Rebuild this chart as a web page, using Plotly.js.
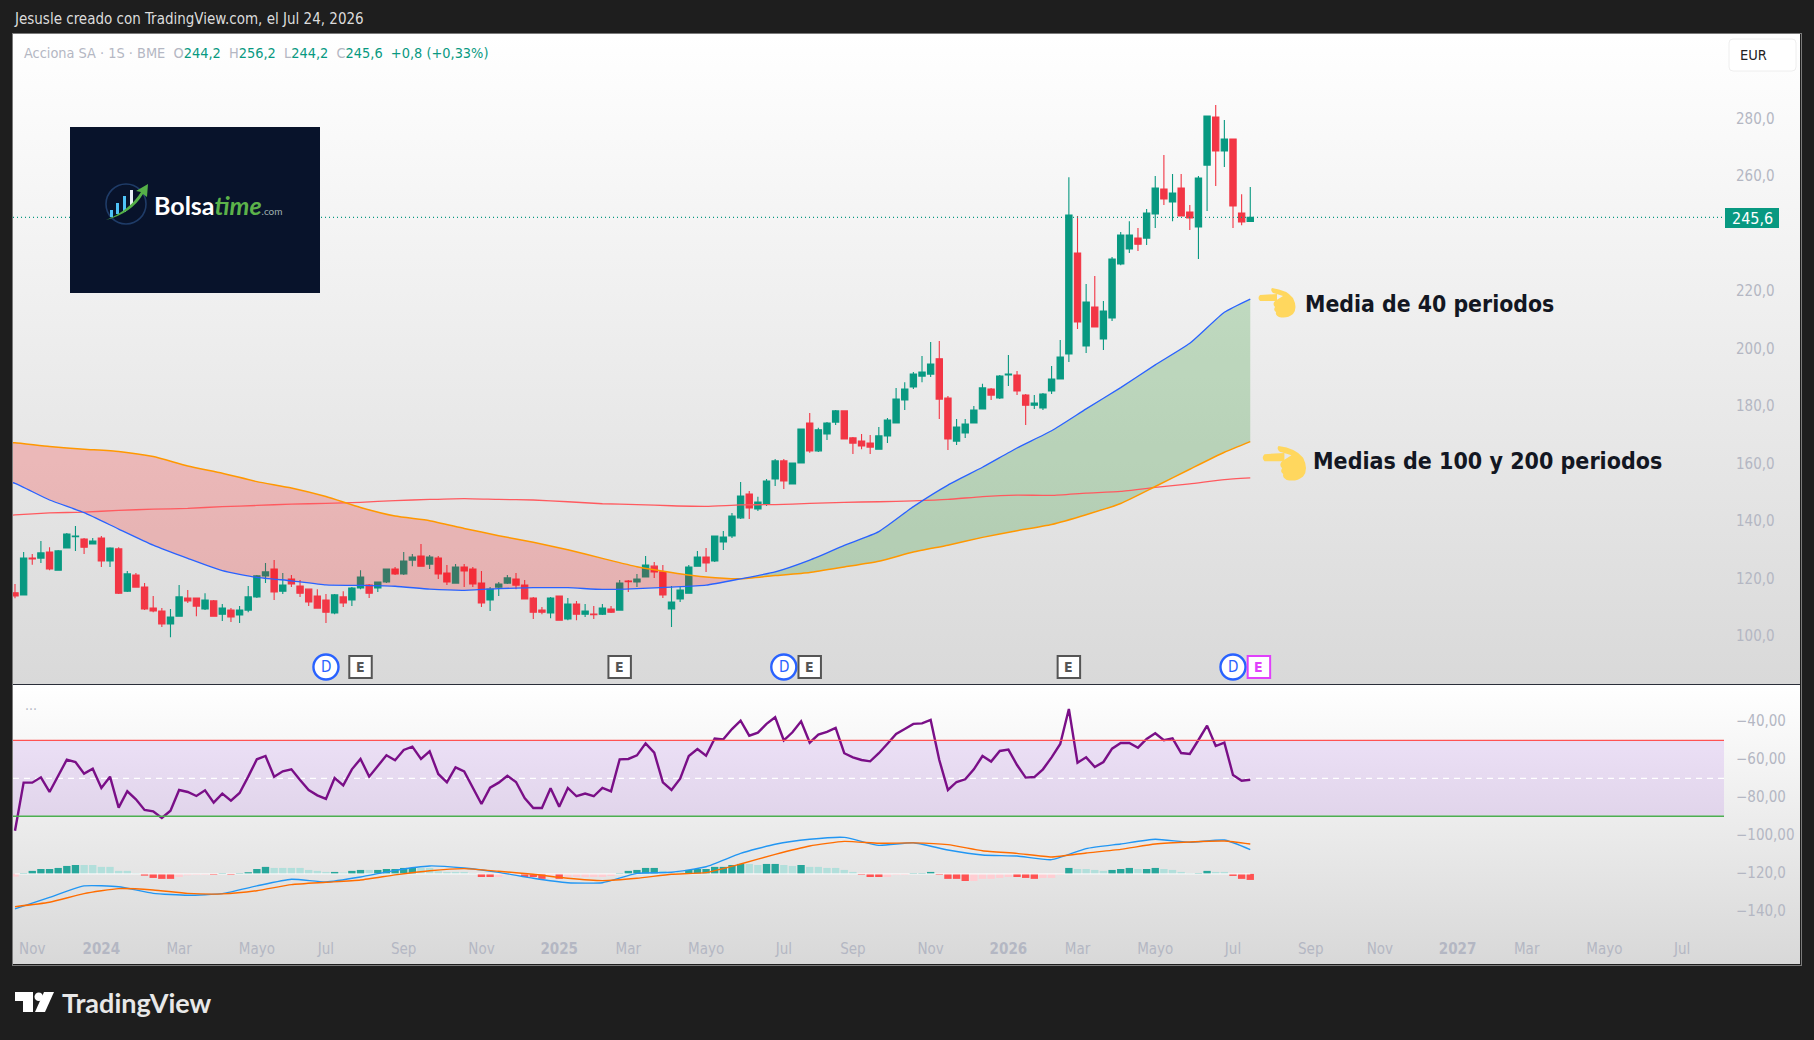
<!DOCTYPE html>
<html><head><meta charset="utf-8">
<script src="https://cdn.plot.ly/plotly-3.0.1.min.js"></script>
<style>
html,body{margin:0;padding:0;background:#1e1e1e;width:1814px;height:1040px;overflow:hidden}
.pane{position:absolute;left:13px;width:1787px}
#p1{top:34px;height:650px;background:linear-gradient(#ffffff,#d9d9d9)}
#p2{top:685px;height:279px;background:linear-gradient(#ffffff 0%,#d8d8d8 100%)}
#frame{position:absolute;left:12px;top:33px;width:1788px;height:931px;border:1px solid #7a7a7a;box-sizing:content-box}
#sep{position:absolute;left:13px;top:684px;width:1787px;height:1px;background:#2a2e39}
#chart{position:absolute;left:0;top:0}
</style></head><body>
<div class="pane" id="p1"></div><div class="pane" id="p2"></div><div id="sep"></div><div id="frame"></div>
<div id="chart"></div>
<script>
const open_=[115.0,114.3,127.1,127.1,129.2,122.9,130.6,134.5,133.7,132.0,
134.1,126.1,130.3,115.6,121.2,117.0,109.7,108.7,104.2,106.9,
113.2,113.2,109.4,112.2,107.6,109.0,107.3,109.0,113.6,120.9,
123.3,115.6,119.8,117.4,116.3,113.9,112.5,108.0,113.6,112.5,
116.7,117.7,116.7,118.8,123.3,121.6,126.4,127.8,125.0,127.1,
121.9,118.4,124.0,123.3,118.4,112.5,117.0,118.4,119.8,117.7,
113.2,109.0,108.0,113.9,105.9,111.1,107.6,107.6,107.6,109.4,
109.0,119.1,118.8,120.5,124.3,122.3,109.4,112.9,114.9,124.3,
127.5,126.1,132.7,134.8,141.1,149.4,144.2,145.9,154.6,160.9,
152.9,160.2,174.1,164.4,170.3,174.4,178.3,168.9,167.8,167.1,
165.0,169.6,174.1,182.1,186.6,190.4,191.1,196.4,182.8,167.8,
170.6,174.1,179.0,185.9,182.8,190.8,190.8,183.8,180.3,179.3,
185.2,189.4,198.1,233.2,200.9,214.4,203.3,210.6,229.4,234.6,
238.4,238.4,246.8,255.5,251.0,255.8,247.5,242.3,263.8,280.5,
268.7,272.9,247.1,244.2];
const high_=[118.1,129.2,128.5,133.0,130.9,129.9,135.8,138.3,134.1,134.1,
134.8,130.9,130.9,122.6,121.9,118.4,113.9,109.7,109.4,117.7,
116.0,113.2,114.9,112.5,111.1,109.7,110.4,117.4,121.2,125.4,
126.4,121.9,121.2,119.5,116.3,116.3,114.6,114.6,115.6,117.0,
122.9,118.1,118.8,123.3,124.0,129.2,128.5,132.0,128.2,127.8,
124.7,125.0,125.0,124.0,122.6,117.0,118.8,121.2,121.9,119.5,
113.6,110.1,113.6,113.9,113.2,112.2,111.1,110.4,111.1,110.4,
119.5,119.5,121.6,127.8,125.7,124.7,117.4,117.0,124.7,129.6,
130.6,134.8,136.5,142.8,153.6,150.4,148.4,154.6,161.6,161.6,
160.2,172.0,177.6,172.4,174.4,178.6,178.3,169.2,170.3,169.9,
172.7,175.8,186.3,188.3,191.8,197.4,202.3,202.6,183.5,175.5,
175.5,180.0,187.7,186.3,190.8,197.7,192.2,184.2,183.8,184.5,
193.9,203.0,259.6,246.1,222.4,225.2,216.5,231.8,240.5,244.3,
241.9,248.5,260.0,267.3,260.7,260.7,249.9,260.0,280.9,284.7,
279.5,272.9,253.7,256.2];
const low_=[113.1,114.3,124.8,125.4,122.9,122.9,130.6,129.6,128.5,132.0,
124.0,124.0,114.6,115.3,117.0,109.0,108.3,103.1,99.6,106.9,
111.5,106.9,109.0,106.9,105.2,104.9,104.5,108.3,113.2,118.4,
112.5,114.6,117.0,113.6,110.4,109.7,104.5,107.6,110.1,110.4,
116.3,113.2,115.3,118.4,121.2,121.2,124.3,124.3,123.3,119.8,
117.7,118.4,117.0,117.0,110.1,108.7,113.9,118.1,116.3,112.9,
105.9,107.6,106.2,105.5,105.5,105.5,106.6,105.9,107.3,108.0,
109.0,115.3,117.0,120.5,120.2,113.2,103.1,111.8,114.9,124.3,
122.3,125.7,129.9,134.1,140.7,140.7,143.5,145.2,152.2,151.1,
152.9,160.2,163.7,164.0,168.2,173.4,168.5,163.3,165.0,163.3,
165.0,167.1,174.1,178.6,185.9,188.3,190.1,175.5,164.7,166.4,
168.9,174.1,179.0,182.1,182.4,187.0,183.8,173.4,179.0,178.6,
184.2,189.4,195.3,206.8,198.4,207.5,199.5,209.6,229.0,233.2,
233.9,236.0,241.9,249.9,244.3,246.1,241.2,231.1,247.8,256.5,
263.1,241.9,242.9,244.2];
const close_=[113.9,127.1,126.8,128.9,123.3,129.6,135.5,134.8,130.9,133.0,
126.1,130.6,114.9,121.6,117.0,109.4,108.7,104.2,106.6,113.6,
112.2,110.4,112.5,106.9,109.7,106.6,109.0,113.6,120.9,122.3,
115.3,117.7,118.1,114.9,111.8,109.7,108.3,114.3,111.5,116.7,
120.5,114.9,118.8,123.3,121.6,126.1,127.5,124.3,127.5,121.6,
118.8,124.0,122.6,118.1,111.5,116.3,118.1,120.2,117.7,112.9,
108.3,108.3,113.2,105.5,111.1,107.6,108.7,107.4,109.7,108.3,
118.4,118.9,119.8,124.7,122.3,114.3,111.8,116.0,124.0,127.5,
125.4,134.8,134.4,141.7,148.7,144.5,146.6,153.9,160.9,153.9,
160.2,172.0,164.4,171.7,174.1,178.3,168.5,167.1,166.1,165.7,
169.6,175.1,182.4,185.9,191.1,191.8,194.6,182.4,168.5,172.7,
173.7,178.6,186.3,183.8,190.4,191.1,185.2,180.3,181.0,184.2,
189.4,197.0,246.4,209.2,216.2,207.5,213.0,231.1,239.5,239.5,
236.3,247.1,255.8,252.0,254.1,246.1,245.4,259.3,280.9,268.7,
272.9,249.6,244.0,245.6];

// moving averages, read at every 4th week
const maWeeks=[-1,0,4,8,12,16,20,24,28,32,36,40,44,48,52,56,60,64,68,72,76,80,84,88,92,96,100,104,108,112,116,120,124,128,132,136,140,143];
const ma100=[167.3,167.2,165.9,165.0,164.2,162.4,159.1,156.6,153.7,151.5,148.5,144.7,141.7,140.1,137.4,134.9,132.6,130.0,127.0,124.1,122.1,120.5,119.9,121.0,122.1,124.0,126.0,129.2,131.6,134.3,136.6,138.8,142.2,146.1,152.0,158.0,163.9,167.6];
const ma40=[153.8,153.1,147.3,142.9,137.2,131.6,127.0,122.7,120.4,119.2,117.8,117.6,117.3,116.3,115.9,116.5,116.8,116.8,116.2,116.5,117.0,117.7,119.9,122.3,126.4,131.5,136.3,145.0,152.5,158.7,165.4,171.4,179.0,186.4,194.3,201.8,212.6,217.2];
const ma200=[142.0,142.1,142.8,143.1,143.7,144.1,144.4,145.0,145.4,145.9,146.1,146.5,147.1,147.5,147.8,147.5,147.3,146.7,146.0,145.7,145.3,145.1,145.6,145.7,146.1,146.5,146.7,147.0,147.5,148.5,149.0,148.9,149.7,150.3,151.7,152.9,154.4,155.0];
const crossWeek=84;

// lower pane, all in the scale printed on its axis
const rsi=[-98.0,-72.75,-72.75,-69.95,-77.65,-69.25,-60.67,-61.9,-68.0,-65.4,
-75.55,-69.6,-85.9,-77.3,-81.5,-87.1,-87.8,-91.3,-87.5,-76.6,
-77.65,-79.75,-76.8,-83.25,-78.5,-82.2,-78.2,-69.6,-60.5,-58.75,
-69.6,-66.8,-65.75,-71.35,-76.6,-79.4,-81.3,-70.3,-74.15,-65.75,
-60.3,-69.6,-64.0,-58.4,-61.0,-55.6,-53.85,-60.3,-56.3,-68.2,
-72.6,-64.7,-66.8,-75.2,-83.95,-75.4,-72.75,-69.1,-72.4,-80.8,
-86.05,-86.05,-75.7,-85.35,-75.55,-79.9,-78.5,-79.9,-75.5,-77.3,
-60.5,-60.3,-58.4,-52.1,-57.0,-72.6,-76.6,-70.65,-58.75,-55.1,
-58.6,-49.6,-50.0,-44.6,-40.2,-48.1,-46.5,-41.9,-38.4,-50.5,
-46.3,-40.5,-51.7,-47.5,-46.1,-44.0,-57.3,-59.45,-60.85,-61.55,
-57.3,-52.3,-47.2,-44.6,-41.9,-41.6,-39.8,-60.85,-76.6,-72.4,
-71.0,-65.75,-58.75,-61.7,-56.1,-55.4,-63.5,-70.1,-69.8,-65.75,
-59.45,-52.45,-34.1,-62.25,-59.45,-64.5,-61.9,-54.9,-51.9,-51.9,
-54.4,-49.8,-46.85,-50.5,-49.5,-57.2,-57.7,-50.35,-42.8,-53.5,
-51.7,-68.7,-71.7,-71.2];
const rsiUpper=-50.5, rsiMiddle=-70.5, rsiLower=-90.4;

const macdWeeks=[0,4,8,12,16,20,24,28,32,36,40,44,48,52,56,60,64,68,72,76,80,84,88,92,96,100,104,108,112,116,120,124,128,132,136,140,143];
const macdLine=[-139.1,-133.0,-127.0,-127.4,-130.9,-131.9,-131.05,-127.0,-123.5,-124.9,-122.3,-118.8,-116.5,-117.6,-119.85,-123.0,-125.3,-125.3,-120.4,-119.85,-116.9,-109.9,-105.1,-102.5,-101.5,-105.7,-104.3,-108.1,-110.75,-111.3,-113.2,-107.4,-104.95,-102.5,-104.1,-102.9,-107.9];
const macdSignal=[-137.9,-135.6,-131.05,-128.4,-129.1,-130.9,-131.2,-129.5,-126.3,-125.1,-123.9,-121.2,-119.0,-117.9,-119.3,-120.9,-123.0,-124.2,-123.0,-120.9,-120.0,-115.5,-110.4,-106.0,-103.6,-104.6,-104.4,-105.3,-108.5,-109.9,-111.8,-109.7,-107.8,-105.0,-103.9,-103.4,-105.0];
const macdZero=-120.7;
const macdHist=[-1.4,0.35,1.6,2.6,2.6,3.15,4.2,4.7,4.7,4.7,
3.7,3.7,1.6,1.6,0.35,-0.9,-2.1,-2.6,-2.6,-1.6,
-0.7,-0.5,-0.5,-0.5,0.35,-0.5,0.35,0.9,2.6,3.7,
3.15,3.15,3.15,3.15,2.1,1.6,1.05,1.05,0.7,1.6,
2.1,2.1,2.1,2.6,2.6,3.15,3.15,3.15,3.15,1.4,
1.05,1.05,1.05,0.5,-1.6,-1.6,-1.6,-0.5,-0.5,-1.6,
-1.6,-2.6,-0.9,-2.6,-1.6,-1.6,-1.6,-1.6,-1.6,-1.05,
0.35,1.6,2.1,3.15,3.15,1.6,0.9,0.9,2.1,2.6,
2.6,3.7,3.7,4.7,5.25,5.25,4.7,5.25,5.25,4.7,
4.2,4.7,3.7,3.7,3.15,3.15,2.1,1.05,-0.5,-1.6,
-1.6,-1.6,-0.5,-0.5,0.35,0.35,1.05,-0.5,-2.6,-2.6,
-3.7,-3.7,-2.6,-2.6,-2.1,-1.6,-1.6,-2.1,-2.6,-2.1,
-2.1,-0.5,3.15,2.6,2.6,2.1,1.6,2.1,2.6,3.15,
2.6,2.6,3.15,2.6,2.1,1.05,0.35,0.35,1.6,1.05,
1.05,-1.05,-2.6,-3.15];
const histShade=("PDDDDDDDLL"+"LLLLLRRRRP"+"PPPRDRDDDD"+"LLLLLLLDLD"+"DLDDDDDLLL"+"LLLLRRPPPR"+"RRPRPPPPPP"+"DDDDDLLLDD"+"DDDDDLLDDL"+"LDLLLLLLRR"+"RPPPDDDRRR"+"RPPPPPRRRP"+"PPDLLLLDDD"+"LDDLLLLDDL"+"LRRR").split("");

const events=[{k:"D",w:36},{k:"E",w:40},{k:"E",w:70},{k:"D",w:89},{k:"E",w:92},{k:"E",w:122},{k:"D",w:141},{k:"E",w:144,next:true}];

const monthTicks=[2,10,19,28,36,45,54,63,71,80,89,97,106,115,123,132,141,150,158,167,175,184,193];
const monthLabels=["Nov","<b>2024</b>","Mar","Mayo","Jul","Sep","Nov","<b>2025</b>","Mar","Mayo","Jul","Sep","Nov","<b>2026</b>","Mar","Mayo","Jul","Sep","Nov","<b>2027</b>","Mar","Mayo","Jul"];
const priceTicks=[100,120,140,160,180,200,220,260,280];
const priceLabels=["100,0","120,0","140,0","160,0","180,0","200,0","220,0","260,0","280,0"];
const lowerTicks=[-40,-60,-80,-100,-120,-140];
const lowerLabels=["−40,00","−60,00","−80,00","−100,00","−120,0","−140,0"];
const lastPrice=245.6, lastPriceLabel="245,6";

const W=1814,H=1040,FONT="'DejaVu Sans Condensed','DejaVu Sans',sans-serif",LOGOFONT="Lato, sans-serif";
const GREY="#b4b7c3",UP="#089981",DOWN="#f23645";
const px=x=>x/W, py=y=>1-y/H;
const weeks=open_.map((_,i)=>i);
const head=(a,w)=>a.filter((_,i)=>maWeeks[i]<=w);
const tail=(a,w)=>a.filter((_,i)=>maWeeks[i]>=w);

const soft={shape:"spline",smoothing:0.5};
const line=(x,y,color,width,yaxis,curve)=>({type:"scatter",mode:"lines",x,y,yaxis:yaxis||"y",line:Object.assign({color,width},curve||{}),showlegend:false,hoverinfo:"skip"});
const band=(x,lo,hi,fill)=>[
 {type:"scatter",mode:"lines",x,y:lo,line:Object.assign({width:0},soft),showlegend:false,hoverinfo:"skip"},
 {type:"scatter",mode:"lines",x,y:hi,line:Object.assign({width:0},soft),fill:"tonexty",fillcolor:fill,showlegend:false,hoverinfo:"skip"}];

const shadeColor={D:"#26a69a",L:"#b2dfdb",R:"#ff5252",P:"#ffcdd2"};
const traces=[
 {type:"candlestick",x:weeks,open:open_,high:high_,low:low_,close:close_,whiskerwidth:0,
  increasing:{line:{color:UP,width:1.1},fillcolor:UP},decreasing:{line:{color:DOWN,width:1.1},fillcolor:DOWN},showlegend:false,hoverinfo:"skip"},
 ...band(head(maWeeks,crossWeek),head(ma40,crossWeek),head(ma100,crossWeek),"rgba(255,0,0,0.2)"),
 ...band(tail(maWeeks,crossWeek),tail(ma100,crossWeek),tail(ma40,crossWeek),"rgba(0,128,0,0.2)"),
 line(maWeeks,ma200,"#ff5a5f",1.3,"y",soft),
 line(maWeeks,ma100,"#ff9800",1.5,"y",soft),
 line(maWeeks,ma40,"#2962ff",1.3,"y",soft),
 {type:"bar",x:weeks,y:macdHist,base:macdZero,yaxis:"y2",width:0.85,marker:{color:histShade.map(s=>shadeColor[s]),line:{width:0}},showlegend:false,hoverinfo:"skip"},
 line([0,143],[macdZero,macdZero],"#ffffff",1,"y2"),
 line(macdWeeks,macdLine,"#2196f3",1.4,"y2",soft),
 line(macdWeeks,macdSignal,"#ff6d00",1.4,"y2",soft),
 line(weeks,rsi,"#7a0f87",2.4,"y2")
];

function hand(x0,y0,s){
 const seq=(a)=>a.map(t=>typeof t==="string"?t:((t[0]*s+x0)/W)+","+(1-(t[1]*s+y0)/H)).join(" ");
 const f=seq(["M",[3,7],"L",[20,6],"L",[20,13],"L",[3,13],"Q",[0,10],[3,7],"Z"]);
 const p=seq(["M",[15,0],"Q",[30,2],[36,10],"Q",[41,20],[36,26],"Q",[30,31],[22,29],"Q",[18,27],[19,24],"Q",[16,22],[18,19],"Q",[15,16],[18,13],"L",[26,8],"Q",[20,6],[16,5],"Q",[13,2],[15,0],"Z"]);
 return [f,p].map(d=>({type:"path",xref:"paper",yref:"paper",path:d,fillcolor:"#ffd75e",line:{width:0}}));
}
const rectPx=(x0,y0,x1,y1,fill,lineOpt)=>({type:"rect",xref:"paper",yref:"paper",x0:px(x0),x1:px(x1),y0:py(y1),y1:py(y0),fillcolor:fill,line:lineOpt||{width:0}});
const textPx=(x,y,text,size,color,anchor,family)=>({xref:"paper",yref:"paper",x:px(x),y:py(y),text,showarrow:false,borderpad:0,xanchor:anchor||"left",yanchor:"middle",font:{family:family||FONT,size,color}});
const rPath=(x0,y0,x1,y1,r)=>{
 const X=v=>v/W,Y=v=>1-v/H;
 return `M ${X(x0+r)},${Y(y0)} L ${X(x1-r)},${Y(y0)} Q ${X(x1)},${Y(y0)} ${X(x1)},${Y(y0+r)} L ${X(x1)},${Y(y1-r)} Q ${X(x1)},${Y(y1)} ${X(x1-r)},${Y(y1)} L ${X(x0+r)},${Y(y1)} Q ${X(x0)},${Y(y1)} ${X(x0)},${Y(y1-r)} L ${X(x0)},${Y(y0+r)} Q ${X(x0)},${Y(y0)} ${X(x0+r)},${Y(y0)} Z`;
};

const shapes=[
 {type:"rect",xref:"paper",yref:"y2",x0:px(13),x1:px(1724),y0:rsiLower,y1:rsiUpper,fillcolor:"rgba(130,10,225,0.10)",line:{width:0},layer:"below"},
 {type:"line",xref:"paper",yref:"y2",x0:px(13),x1:px(1724),y0:rsiUpper,y1:rsiUpper,line:{color:"#ff5252",width:1.3}},
 {type:"line",xref:"paper",yref:"y2",x0:px(13),x1:px(1724),y0:rsiLower,y1:rsiLower,line:{color:"#4caf50",width:1.3}},
 {type:"line",xref:"paper",yref:"y2",x0:px(13),x1:px(1724),y0:rsiMiddle,y1:rsiMiddle,line:{color:"#ffffff",width:1.2,dash:"6px,5px"},layer:"below"},
 {type:"line",xref:"paper",yref:"y",x0:px(13),x1:px(1724),y0:lastPrice,y1:lastPrice,line:{color:UP,width:1.2,dash:"1px,3px"}},
 rectPx(70,127,320,293,"#08132b"),
 {type:"circle",xref:"paper",yref:"paper",x0:px(106),x1:px(146),y0:py(224),y1:py(184),line:{color:"#1f3c68",width:1.6},fillcolor:"rgba(0,0,0,0)"},
 rectPx(110,210,113,217,"#4fc3f7"),rectPx(116,203,119,214,"#4fc3f7"),rectPx(123,196,126,212,"#4fc3f7"),rectPx(130,190,133,206,"#e8eef5"),
 {type:"path",xref:"paper",yref:"paper",path:`M ${px(106)},${py(220)} Q ${px(130)},${py(210)} ${px(141)},${py(192)} L ${px(136)},${py(191)} L ${px(148)},${py(184)} L ${px(147)},${py(197)} L ${px(143)},${py(194)} Q ${px(132)},${py(213)} ${px(106)},${py(220)} Z`,fillcolor:"#55b048",line:{width:0}},
 {type:"path",xref:"paper",yref:"paper",path:rPath(1729,39,1796,71,4),fillcolor:"#ffffff",line:{color:"#eeeeee",width:1}},
 ...hand(1257,288,1),
 ...hand(1261,446,1.17),
 rectPx(1725,208,1779,228,UP),
 {type:"path",xref:"paper",yref:"paper",path:`M ${px(15)},${py(992)} L ${px(33)},${py(992)} L ${px(33)},${py(1012)} L ${px(23)},${py(1012)} L ${px(23)},${py(1001)} L ${px(15)},${py(1001)} Z`,fillcolor:"#ffffff",line:{width:0}},
 {type:"circle",xref:"paper",yref:"paper",x0:px(34.5),x1:px(43),y0:py(1001),y1:py(992.5),fillcolor:"#ffffff",line:{width:0}},
 {type:"path",xref:"paper",yref:"paper",path:`M ${px(44)},${py(992)} L ${px(54)},${py(992)} L ${px(45)},${py(1012)} L ${px(35)},${py(1012)} Z`,fillcolor:"#ffffff",line:{width:0}},
];
const annotations=[
 textPx(13,19,"Jesusle creado con TradingView.com, el Jul 24, 2026",15,"#dcdcdc"),
 textPx(23,53,`<span style="color:${GREY}">Acciona SA · 1S · BME &nbsp;O</span>244,2 &nbsp;<span style="color:${GREY}">H</span>256,2 &nbsp;<span style="color:${GREY}">L</span>244,2 &nbsp;<span style="color:${GREY}">C</span>245,6 &nbsp;+0,8 (+0,33%)`,14.4,UP),
 textPx(1739,55,"EUR",14.5,"#222222"),
 textPx(1752,218,lastPriceLabel,16,"#ffffff","center"),
 textPx(24,709,"···",14,GREY),
 textPx(153,205,'<b>Bolsa</b><b><i style="color:#5cb24a">time</i></b><span style="font-size:10px;color:#9fb0b0">.com</span>',25,"#ffffff","left",LOGOFONT),
 textPx(1304,304,"<b>Media de 40 periodos</b>",22.8,"#131722"),
 textPx(1312,461,"<b>Medias de 100 y 200 periodos</b>",23,"#131722"),
 textPx(61,1002,"<b>TradingView</b>",27,"#e8e8e8","left",LOGOFONT),
];
const evY=667;
events.forEach(e=>{
 const purple=!!e.next;
 if(e.k==="D"){
  shapes.push({type:"circle",xref:"x",yref:"paper",x0:e.w-1.45,x1:e.w+1.45,y0:py(evY+12.5),y1:py(evY-12.5),fillcolor:"#ffffff",line:{color:"#2962ff",width:2.4}});
  annotations.push({xref:"x",yref:"paper",x:e.w,y:py(evY),text:"D",showarrow:false,xanchor:"center",yanchor:"middle",font:{family:FONT,size:15,color:"#2962ff"}});
 }else{
  shapes.push({type:"rect",xref:"x",yref:"paper",x0:e.w-1.3,x1:e.w+1.3,y0:py(evY+11),y1:py(evY-11),fillcolor:"#ffffff",line:{color:purple?"#e040fb":"#555555",width:2}});
  annotations.push({xref:"x",yref:"paper",x:e.w,y:py(evY),text:"<b>E</b>",showarrow:false,xanchor:"center",yanchor:"middle",font:{family:FONT,size:14,color:purple?"#e040fb":"#555555"}});
 }
});

const layout={
 width:W,height:H,margin:{l:0,r:0,t:0,b:0},paper_bgcolor:"rgba(0,0,0,0)",plot_bgcolor:"rgba(0,0,0,0)",
 showlegend:false,boxgap:0.27,boxgroupgap:0,barmode:"overlay",hovermode:false,
 xaxis:{type:"linear",domain:[px(13),px(1724)],range:[-0.23,197.84],anchor:"y2",rangeslider:{visible:false},tickmode:"array",tickvals:monthTicks,ticktext:monthLabels,
  showgrid:false,zeroline:false,showline:false,ticks:"",ticklabelstandoff:6,tickfont:{family:FONT,size:15,color:GREY},fixedrange:true},
 yaxis:{domain:[py(684),py(34)],range:[83.3,309.4],side:"right",anchor:"x",tickmode:"array",tickvals:priceTicks,ticktext:priceLabels,showgrid:false,zeroline:false,showline:false,ticks:"",ticklabelstandoff:11,
  tickfont:{family:FONT,size:15,color:GREY},fixedrange:true},
 yaxis2:{domain:[py(932),py(685)],range:[-151.2,-21.46],side:"right",anchor:"x",tickmode:"array",tickvals:lowerTicks,ticktext:lowerLabels,showgrid:false,zeroline:false,showline:false,ticks:"",ticklabelstandoff:11,
  tickfont:{family:FONT,size:15,color:GREY},fixedrange:true},
 shapes,annotations
};
Plotly.newPlot("chart",traces,layout,{staticPlot:true,displayModeBar:false});
</script></body></html>
